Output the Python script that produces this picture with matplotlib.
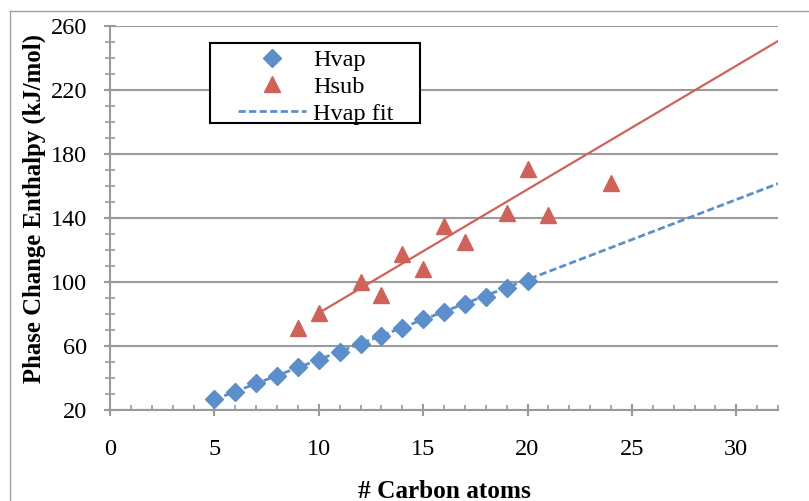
import matplotlib
matplotlib.use("Agg")
import matplotlib.pyplot as plt
from matplotlib.lines import Line2D
from matplotlib.patches import Rectangle
from matplotlib.ticker import MultipleLocator

# ---- data ----
hvap_x = [5, 6, 7, 8, 9, 10, 11, 12, 13, 14, 15, 16, 17, 18, 19, 20]
hvap_y = [26.9, 31.3, 36.7, 41.4, 46.7, 51.3, 56.0, 61.0, 66.3, 71.2,
          76.7, 81.4, 86.3, 90.8, 96.0, 100.6]

hsub_x = [9, 10, 12, 13, 14, 15, 16, 17, 19, 20, 21, 24]
hsub_y = [71.4, 80.4, 100.2, 91.7, 117.5, 107.9, 135.0, 125.2, 143.4, 170.5, 141.9, 161.8]

hvap_fit_x = [5, 32]
hvap_fit_y = [26.5, 161.5]

hsub_fit_x = [10, 32]
hsub_fit_y = [80.6, 250.6]

x_ticks = [0, 5, 10, 15, 20, 25, 30]
y_ticks = [20, 60, 100, 140, 180, 220, 260]

BLUE = "#5B8FCB"
RED = "#D0625A"
GRID = "#9A9A9A"

plt.rcParams["font.family"] = ["Liberation Serif", "DejaVu Serif"]

W, H = 809, 501
fig = plt.figure(figsize=(W / 100, H / 100), dpi=100)
ax = fig.add_axes([110 / W, 1 - 410 / H, (778 - 110) / W, (410 - 26) / H])

# outer chart border (gray)
fig.add_artist(Line2D([10 / W, 10 / W], [0, 1 - 11 / H], transform=fig.transFigure,
                      color="#A0A0A0", lw=1.0))
fig.add_artist(Line2D([10 / W, 1], [1 - 11 / H, 1 - 11 / H], transform=fig.transFigure,
                      color="#A0A0A0", lw=1.0))

ax.plot(hvap_fit_x, hvap_fit_y, color=BLUE, lw=2.0, dashes=(2.6, 1.2), zorder=3)
ax.plot(hsub_fit_x, hsub_fit_y, color=RED, lw=1.6, zorder=3)
ax.plot(hvap_x, hvap_y, ls="none", marker="D", ms=9.3, color=BLUE, mec=BLUE, zorder=4)
ax.plot(hsub_x, hsub_y, ls="none", marker="^", ms=12.2, color=RED, mec=RED, zorder=4)

ax.set_xlim(0, 32)
ax.set_ylim(20, 260)
ax.set_xticks(x_ticks)
ax.set_yticks(y_ticks)
ax.xaxis.set_minor_locator(MultipleLocator(1))
ax.yaxis.set_minor_locator(MultipleLocator(10))

ax.grid(axis="y", which="major", color=GRID, lw=1.5, zorder=1)
ax.set_axisbelow(True)
for s in ["top", "right"]:
    ax.spines[s].set_visible(False)
for s in ["left", "bottom"]:
    ax.spines[s].set_color(GRID)
    ax.spines[s].set_linewidth(1.5)

ax.tick_params(axis="y", which="major", direction="inout", length=8.5, width=1.5,
               color=GRID, labelsize=17.5, pad=12)
ax.tick_params(axis="y", which="minor", direction="inout", length=7, width=1.2, color=GRID)
ax.tick_params(axis="x", which="major", direction="inout", length=8, width=1.5,
               color=GRID, labelsize=17.5, pad=17)
ax.tick_params(axis="x", which="minor", direction="in", length=3.6, width=1.2, color=GRID)

fig.text((110 + 778) / 2 / W, 3.5 / H, "# Carbon atoms", ha="center", va="baseline",
         fontsize=18.2, fontweight="bold")
fig.text(34 / W, 1 - 209 / H, "Phase Change Enthalpy (kJ/mol)", ha="center", va="center",
         rotation=90, fontsize=17.8, fontweight="bold")

# legend box
fig.add_artist(Rectangle((210 / W, 1 - 123 / H), 210 / W, 80 / H, transform=fig.transFigure,
                         facecolor="white", edgecolor="black", lw=1.5, zorder=5))
handles = [
    Line2D([], [], ls="none", marker="D", ms=9.3, color=BLUE),
    Line2D([], [], ls="none", marker="^", ms=12.2, color=RED),
    Line2D([], [], color=BLUE, lw=2.0, dashes=(2.6, 1.2)),
]
leg = fig.legend(handles, ["Hvap", "Hsub", "Hvap fit"], loc="upper left",
                 bbox_to_anchor=(238 / W, 1 - 49 / H), bbox_transform=fig.transFigure,
                 frameon=False, fontsize=17.5, handlelength=2.8, handletextpad=0.3,
                 labelspacing=0.2, borderpad=0, borderaxespad=0)
leg.set_zorder(6)

fig.savefig("out.png", dpi=100)
